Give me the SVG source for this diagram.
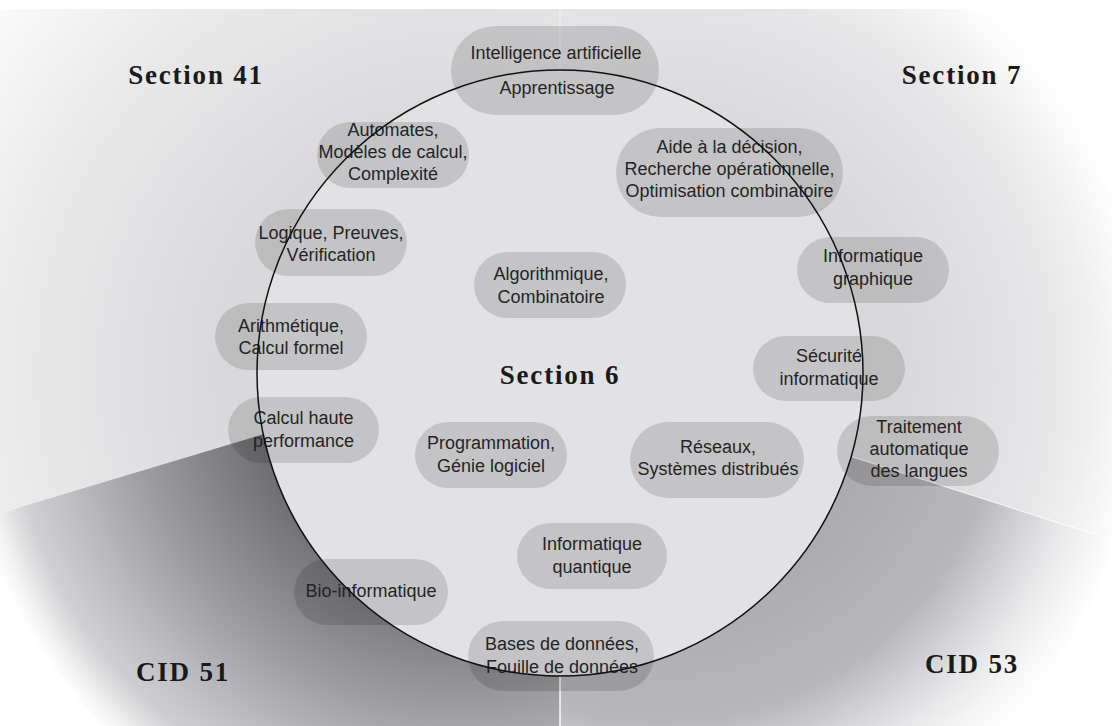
<svg xmlns="http://www.w3.org/2000/svg" width="1112" height="726" viewBox="0 0 1112 726">
  <defs>
    <radialGradient id="gS41" gradientUnits="userSpaceOnUse" cx="460" cy="373" r="590">
      <stop offset="0" stop-color="#d4d4d6"/>
      <stop offset="0.40" stop-color="#d9d9db"/>
      <stop offset="0.60" stop-color="#e2e2e4"/>
      <stop offset="0.78" stop-color="#ebebec"/>
      <stop offset="0.86" stop-color="#f1f1f1"/>
      <stop offset="1" stop-color="#fbfbfb"/>
    </radialGradient>
    <radialGradient id="gS7" gradientUnits="userSpaceOnUse" cx="660" cy="373" r="490">
      <stop offset="0" stop-color="#d4d4d6"/>
      <stop offset="0.50" stop-color="#d9d9db"/>
      <stop offset="0.78" stop-color="#e5e5e7"/>
      <stop offset="0.88" stop-color="#efefef"/>
      <stop offset="1" stop-color="#ffffff"/>
    </radialGradient>
    <radialGradient id="gC51" gradientUnits="userSpaceOnUse" cx="460" cy="380" r="500">
      <stop offset="0" stop-color="#5e5e62"/>
      <stop offset="0.40" stop-color="#6c6c70"/>
      <stop offset="0.60" stop-color="#929296"/>
      <stop offset="0.70" stop-color="#a6a6aa"/>
      <stop offset="0.80" stop-color="#bcbcc0"/>
      <stop offset="0.90" stop-color="#d0d0d3"/>
      <stop offset="0.97" stop-color="#f4f4f4"/>
      <stop offset="1" stop-color="#ffffff"/>
    </radialGradient>
    <radialGradient id="gC53" gradientUnits="userSpaceOnUse" cx="660" cy="380" r="490">
      <stop offset="0" stop-color="#a0a0a4"/>
      <stop offset="0.45" stop-color="#acacb0"/>
      <stop offset="0.70" stop-color="#b8b8bc"/>
      <stop offset="0.78" stop-color="#d0d0d4"/>
      <stop offset="0.86" stop-color="#e6e6e8"/>
      <stop offset="0.94" stop-color="#f6f6f6"/>
      <stop offset="1" stop-color="#ffffff"/>
    </radialGradient>
    <style>
      .pill { fill: #000000; fill-opacity: 0.13; }
      .lbl { font-family: "Liberation Sans", Arial, sans-serif; font-size: 18px; fill: #242424; text-anchor: middle; }
      .sec { font-family: "Liberation Serif", "Times New Roman", serif; font-weight: bold; font-size: 27px; letter-spacing: 1.8px; fill: #1a1a1a; text-anchor: middle; }
      .seam { stroke: #ffffff; fill: none; }
    </style>
  </defs>

  <rect x="0" y="0" width="1112" height="726" fill="#ffffff"/>

  <g id="background">
    <polygon points="0,9 560,9 560,345 0,513" fill="url(#gS41)"/>
    <polygon points="560,9 1112,9 1112,540 560,363" fill="url(#gS7)"/>
    <polygon points="0,513 560,345 560,726 0,726" fill="url(#gC51)"/>
    <polygon points="560,363 1112,540 1112,726 560,726" fill="url(#gC53)"/>
    <line class="seam" x1="560" y1="9" x2="560" y2="80" stroke-width="1" stroke-opacity="0.5"/>
    <line class="seam" x1="560" y1="670" x2="560" y2="726" stroke-width="1.4"/>
    <line class="seam" x1="840" y1="453" x2="1112" y2="540" stroke-width="1" stroke-opacity="0.85"/>
    <line class="seam" x1="0" y1="513" x2="280" y2="429" stroke-width="0.6" stroke-opacity="0.4"/>
  </g>

  <circle id="section6-area" cx="560" cy="373" r="303" fill="#e2e2e4"/>

  <g id="node-ia">
    <rect class="pill" x="451" y="26" width="208" height="89" rx="44.5"/>
    <text class="lbl" x="556" y="59.3">Intelligence artificielle</text>
    <text class="lbl" x="557" y="94.3">Apprentissage</text>
  </g>
  <g id="node-automates">
    <rect class="pill" x="317" y="122" width="152" height="66" rx="33"/>
    <text class="lbl" x="393" y="135.7">Automates,</text>
    <text class="lbl" x="393" y="157.7">Modèles de calcul,</text>
    <text class="lbl" x="393" y="180">Complexité</text>
  </g>
  <g id="node-aide">
    <rect class="pill" x="616" y="128" width="227" height="89" rx="44.5"/>
    <text class="lbl" x="729.5" y="152.7">Aide à la décision,</text>
    <text class="lbl" x="729.5" y="175">Recherche opérationnelle,</text>
    <text class="lbl" x="729.5" y="196.7">Optimisation combinatoire</text>
  </g>
  <g id="node-logique">
    <rect class="pill" x="255" y="209" width="152" height="67" rx="33.5"/>
    <text class="lbl" x="331" y="239">Logique, Preuves,</text>
    <text class="lbl" x="331" y="260.7">Vérification</text>
  </g>
  <g id="node-graphique">
    <rect class="pill" x="797" y="237" width="152" height="66" rx="33"/>
    <text class="lbl" x="873" y="262">Informatique</text>
    <text class="lbl" x="873" y="284.5">graphique</text>
  </g>
  <g id="node-algorithmique">
    <rect class="pill" x="474" y="252" width="152" height="66" rx="33"/>
    <text class="lbl" x="551" y="280">Algorithmique,</text>
    <text class="lbl" x="551" y="302.7">Combinatoire</text>
  </g>
  <g id="node-arithmetique">
    <rect class="pill" x="215" y="303" width="152" height="67" rx="33.5"/>
    <text class="lbl" x="291" y="331.5">Arithmétique,</text>
    <text class="lbl" x="291" y="354">Calcul formel</text>
  </g>
  <g id="node-securite">
    <rect class="pill" x="753" y="336" width="152" height="65" rx="32.5"/>
    <text class="lbl" x="829" y="362">Sécurité</text>
    <text class="lbl" x="829" y="384.5">informatique</text>
  </g>
  <g id="node-hpc">
    <rect class="pill" x="228" y="397" width="151" height="66" rx="33"/>
    <text class="lbl" x="303.5" y="424.3">Calcul haute</text>
    <text class="lbl" x="303.5" y="446.7">performance</text>
  </g>
  <g id="node-programmation">
    <rect class="pill" x="415" y="422" width="152" height="66" rx="33"/>
    <text class="lbl" x="491" y="449.3">Programmation,</text>
    <text class="lbl" x="491" y="471.7">Génie logiciel</text>
  </g>
  <g id="node-reseaux">
    <rect class="pill" x="630" y="422" width="174" height="76" rx="38"/>
    <text class="lbl" x="718" y="453">Réseaux,</text>
    <text class="lbl" x="718" y="475">Systèmes distribués</text>
  </g>
  <g id="node-tal">
    <rect class="pill" x="837" y="416" width="162" height="70" rx="35"/>
    <text class="lbl" x="919" y="432.7">Traitement</text>
    <text class="lbl" x="919" y="455">automatique</text>
    <text class="lbl" x="919" y="477.3">des langues</text>
  </g>
  <g id="node-quantique">
    <rect class="pill" x="517" y="523" width="150" height="66" rx="33"/>
    <text class="lbl" x="592" y="550">Informatique</text>
    <text class="lbl" x="592" y="572.7">quantique</text>
  </g>
  <g id="node-bio">
    <rect class="pill" x="294" y="559" width="154" height="66" rx="33"/>
    <text class="lbl" x="371" y="596.7">Bio-informatique</text>
  </g>
  <g id="node-bdd">
    <rect class="pill" x="468" y="621" width="186" height="70" rx="35"/>
    <text class="lbl" x="562" y="650">Bases de données,</text>
    <text class="lbl" x="562" y="672.7">Fouille de données</text>
  </g>

  <circle id="section6-border" cx="560" cy="373" r="303" fill="none" stroke="#111111" stroke-width="1.5"/>

  <g id="region-labels">
    <text class="sec" x="196" y="84">Section 41</text>
    <text class="sec" x="962" y="84">Section 7</text>
    <text class="sec" x="560" y="384.3">Section 6</text>
    <text class="sec" x="183" y="681">CID 51</text>
    <text class="sec" x="972" y="673">CID 53</text>
  </g>
</svg>
